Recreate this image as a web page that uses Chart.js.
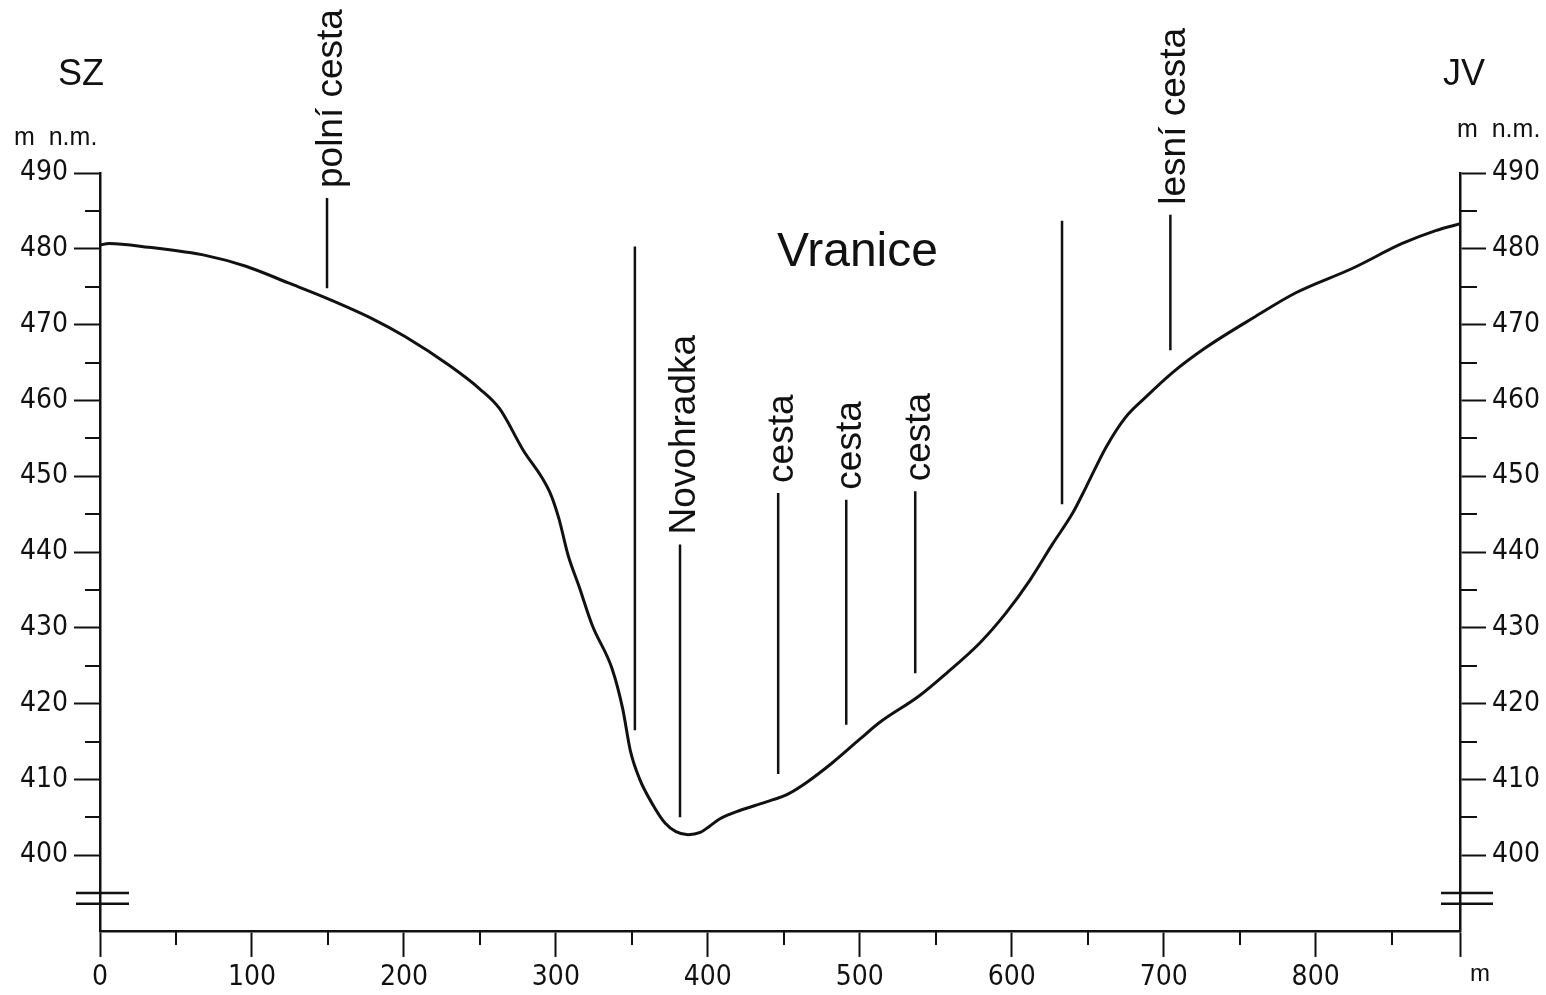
<!DOCTYPE html>
<html>
<head>
<meta charset="utf-8">
<title>Vranice – příčný profil</title>
<script src="https://cdn.jsdelivr.net/npm/chart.js@4.4.1/dist/chart.umd.min.js"></script>
<style>
  html, body { margin: 0; padding: 0; background: #fff; }
  #wrap { width: 1546px; height: 995px; }
</style>
</head>
<body>
<div id="wrap"><canvas id="profil" width="1546" height="995"></canvas></div>
<script>
// Terrain profile: distance along the section (m) and elevation (m n.m.)
const distances = [0, 6, 32, 70, 96, 124, 149, 179, 201, 230, 250, 263, 278, 296, 302, 308, 315, 324, 337, 344,
  349, 355, 364, 372, 379, 387, 395, 401, 408, 421, 438, 453, 465, 482, 500, 513, 539, 557, 579, 596, 612,
  627, 640, 649, 662, 675, 688, 706, 728, 759, 787, 824, 857, 879, 895];
const elevations = [480.5, 480.7, 480.2, 479.1, 477.7, 475.5, 473.5, 470.8, 468.4, 464.6, 461.5, 458.9, 453.6, 447.9, 444.4, 439.6, 435.6, 430.3, 424.6, 419.3,
  413.8, 410.1, 406.6, 404.2, 403.1, 402.7, 403.0, 403.8, 404.8, 405.9, 407.0, 408.1, 409.6, 412.2, 415.3, 417.5, 421.0, 424.0, 428.0, 431.9, 436.3,
  441.1, 445.1, 448.6, 453.8, 457.8, 460.4, 463.7, 467.0, 470.9, 474.2, 477.4, 480.7, 482.4, 483.3];

// Axis ticks
const xTickValues = [0, 100, 200, 300, 400, 500, 600, 700, 800];
const xMinorTicks = [50, 150, 250, 350, 450, 550, 650, 750, 850];
const xMax = 895;
const yTickValues = [390, 400, 410, 420, 430, 440, 450, 460, 470, 480, 490];
const yMinorTicks = [405, 415, 425, 435, 445, 455, 465, 475, 485];
const yMin = 390;
const yMax = 490;
const breakLevels = [395, 393.6];

// Vertical markers (roads, river) along the section
const markerDist   = [149.4, 352, 381.7, 446.3, 491.1, 536.5, 633.1, 704.4];
const markerTop    = [486.7, 480.3, 441.0, 447.8, 446.9, 448.0, 483.7, 484.5];
const markerBottom = [474.8, 416.5, 405.0, 410.7, 417.2, 424.0, 446.3, 466.6];
const markerLabel  = ['polní cesta', '', 'Novohradka', 'cesta', 'cesta', 'cesta', '', 'lesní cesta'];

const INK = '#111';
const NUM_FONT = '"Liberation Sans Narrow", "DejaVu Sans Condensed", "Liberation Sans", sans-serif';
const TXT_FONT = '"Liberation Sans", Arial, sans-serif';

const profileData = distances.map((d, i) => ({ x: d, y: elevations[i] }));

const markerSets = markerDist.map((d, i) => ({
  label: markerLabel[i] || 'značka',
  data: [{ x: d, y: markerTop[i] }, { x: d, y: markerBottom[i] }],
  borderColor: INK,
  borderWidth: 2.5,
  pointRadius: 0,
  tension: 0,
  xAxisID: 'x',
  yAxisID: 'y'
}));

const decor = {
  id: 'profileDecor',
  afterDraw(chart) {
    const ctx = chart.ctx;
    const xs = chart.scales.x, ys = chart.scales.y;
    const a = chart.chartArea;
    ctx.save();
    ctx.strokeStyle = INK;
    ctx.fillStyle = INK;
    ctx.lineWidth = 2;
    ctx.lineCap = 'butt';

    // minor ticks
    ctx.beginPath();
    yMinorTicks.forEach(v => {
      const py = Math.round(ys.getPixelForValue(v));
      ctx.moveTo(a.left - 15, py); ctx.lineTo(a.left, py);
      ctx.moveTo(a.right, py); ctx.lineTo(a.right + 17, py);
    });
    xMinorTicks.forEach(v => {
      const px = Math.round(xs.getPixelForValue(v));
      ctx.moveTo(px, a.bottom); ctx.lineTo(px, a.bottom + 14);
    });
    ctx.stroke();

    // axis break marks
    ctx.lineWidth = 2.5;
    ctx.beginPath();
    breakLevels.forEach(v => {
      const py = ys.getPixelForValue(v);
      ctx.moveTo(a.left - 24, py); ctx.lineTo(a.left + 29, py);
      ctx.moveTo(a.right - 19, py); ctx.lineTo(a.right + 33, py);
    });
    ctx.stroke();

    // marker labels, written upwards above each marker line
    ctx.font = '37px ' + TXT_FONT;
    ctx.textAlign = 'left';
    ctx.textBaseline = 'alphabetic';
    markerLabel.forEach((t, i) => {
      if (!t) return;
      const px = xs.getPixelForValue(markerDist[i]);
      const py = ys.getPixelForValue(markerTop[i]) - 10;
      ctx.save();
      ctx.translate(px, py);
      ctx.rotate(-Math.PI / 2);
      ctx.fillText(t, 0, 15);
      ctx.restore();
    });

    // directions, units and valley name
    ctx.font = '36px ' + TXT_FONT;
    ctx.fillText('SZ', 58, 85);
    ctx.fillText('JV', 1443, 85);
    ctx.font = '25px ' + TXT_FONT;
    ctx.fillText('m  n.m.', 14, 145);
    ctx.fillText('m  n.m.', 1457, 137);
    ctx.font = '24px ' + TXT_FONT;
    ctx.fillText('m', 1470, 981);
    ctx.font = '48px ' + TXT_FONT;
    ctx.fillText('Vranice', 777, 266);
    ctx.restore();
  }
};

const axisBorder = { display: true, color: INK, width: 2.5 };

new Chart(document.getElementById('profil'), {
  type: 'line',
  data: {
    datasets: [{
      label: 'profil',
      data: profileData,
      borderColor: INK,
      borderWidth: 3,
      pointRadius: 0,
      cubicInterpolationMode: 'monotone',
      fill: false,
      xAxisID: 'x',
      yAxisID: 'y'
    }].concat(markerSets)
  },
  options: {
    responsive: false,
    animation: false,
    devicePixelRatio: 1,
    layout: { padding: { top: 173, left: 0, right: 0, bottom: 0 } },
    plugins: { legend: { display: false }, tooltip: { enabled: false } },
    scales: {
      x: {
        type: 'linear',
        position: 'bottom',
        min: 0,
        max: xMax,
        afterFit: s => { s.height = 64; },
        afterBuildTicks: s => { s.ticks = xTickValues.concat([xMax]).map(v => ({ value: v })); },
        ticks: {
          autoSkip: false, maxRotation: 0, minRotation: 0, padding: 4,
          color: INK, font: { family: NUM_FONT, size: 28 },
          callback: v => xTickValues.includes(v) ? String(v) : ''
        },
        grid: { drawOnChartArea: false, drawTicks: true, tickLength: 26, tickWidth: 2, tickColor: INK },
        border: axisBorder
      },
      y: {
        type: 'linear',
        position: 'left',
        min: yMin,
        max: yMax,
        afterFit: s => { s.width = 100; },
        afterBuildTicks: s => { s.ticks = yTickValues.map(v => ({ value: v })); },
        ticks: {
          padding: 6, color: INK, font: { family: NUM_FONT, size: 28 },
          callback: v => v >= 400 ? String(v) : ''
        },
        grid: {
          drawOnChartArea: false, drawTicks: true, tickLength: 26, tickWidth: 2,
          tickColor: c => (c.tick && c.tick.value < 400) ? 'rgba(0,0,0,0)' : INK
        },
        border: axisBorder
      },
      y2: {
        type: 'linear',
        position: 'right',
        min: yMin,
        max: yMax,
        afterFit: s => { s.width = 86; },
        afterBuildTicks: s => { s.ticks = yTickValues.map(v => ({ value: v })); },
        ticks: {
          padding: 6, color: INK, font: { family: NUM_FONT, size: 28 },
          callback: v => v >= 400 ? String(v) : ''
        },
        grid: {
          drawOnChartArea: false, drawTicks: true, tickLength: 26, tickWidth: 2,
          tickColor: c => (c.tick && c.tick.value < 400) ? 'rgba(0,0,0,0)' : INK
        },
        border: axisBorder
      }
    }
  },
  plugins: [decor]
});
</script>
</body>
</html>
